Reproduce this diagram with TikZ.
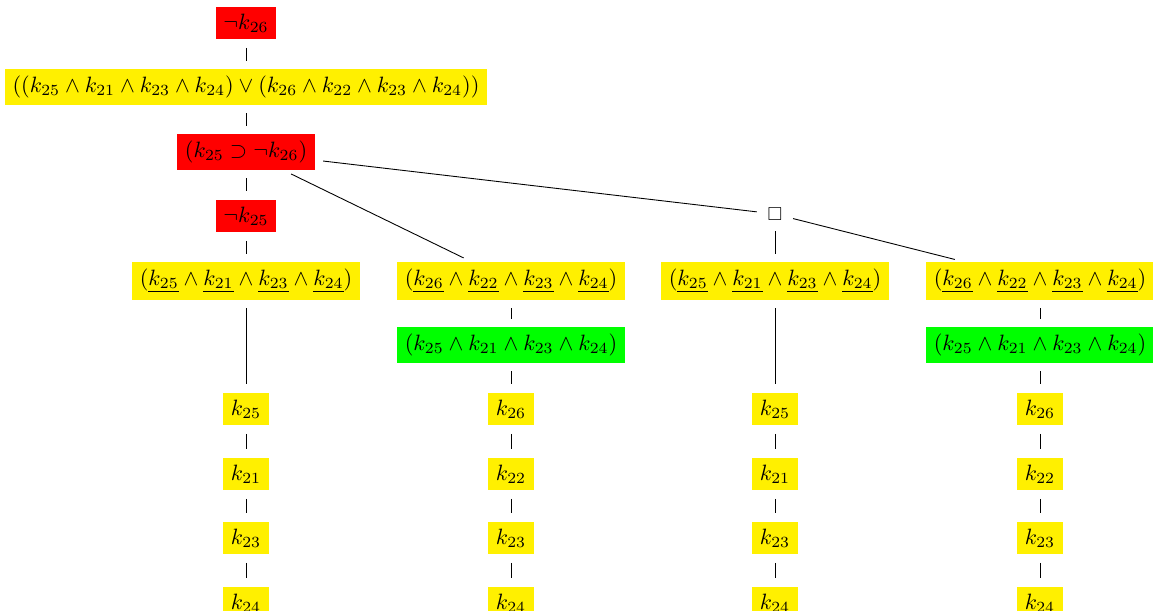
\documentclass[tikz,border=0pt]{standalone}
\usepackage{amssymb}
\usepackage{graphicx}
\definecolor{ylw}{RGB}{255,240,0}
\definecolor{rd}{RGB}{255,0,0}
\definecolor{grn}{RGB}{0,255,0}
\begin{document}
\begin{tikzpicture}[x=0.451pt,y=-0.451pt,
  base/.style={inner xsep=3.5pt, inner ysep=3.15pt, minimum height=14.85pt},
  yb/.style={base, fill=ylw},
  rb/.style={base, fill=rd},
  gb/.style={base, fill=grn},
  conn/.style={shorten <=3.55pt, shorten >=3.55pt}]
\useasboundingbox (0,0) rectangle (1153,611);
\node[rb] (n1) at (246,23) {$\neg k_{26}$};
\node[yb] (n2) at (246,87) {$((k_{25}\wedge k_{21}\wedge k_{23}\wedge k_{24})\vee(k_{26}\wedge k_{22}\wedge k_{23}\wedge k_{24}))$};
\node[rb] (n3) at (246,152) {$(k_{25}\supset\neg k_{26})$};
\node[rb] (n4) at (246,216) {$\neg k_{25}$};
\node[inner sep=1.2pt] (bx) at (775,214) {\scalebox{0.85}{$\Box$}};
\node[yb] (a) at (246,281) {$(\underline{k_{25}}\wedge \underline{k_{21}}\wedge \underline{k_{23}}\wedge \underline{k_{24}})$};
\node[yb] (b) at (511,281) {$(\underline{k_{26}}\wedge \underline{k_{22}}\wedge \underline{k_{23}}\wedge \underline{k_{24}})$};
\node[yb] (c) at (775,281) {$(\underline{k_{25}}\wedge \underline{k_{21}}\wedge \underline{k_{23}}\wedge \underline{k_{24}})$};
\node[yb] (d) at (1040,281) {$(\underline{k_{26}}\wedge \underline{k_{22}}\wedge \underline{k_{23}}\wedge \underline{k_{24}})$};
\node[gb] (bg) at (511,345) {$(k_{25}\wedge k_{21}\wedge k_{23}\wedge k_{24})$};
\node[gb] (dg) at (1040,345) {$(k_{25}\wedge k_{21}\wedge k_{23}\wedge k_{24})$};
% chains
\node[yb] (a1) at (246,409) {$k_{25}$};
\node[yb] (a2) at (246,474) {$k_{21}$};
\node[yb] (a3) at (246,538) {$k_{23}$};
\node[yb] (a4) at (246,603) {$k_{24}$};
\node[yb] (b1) at (511,409) {$k_{26}$};
\node[yb] (b2) at (511,474) {$k_{22}$};
\node[yb] (b3) at (511,538) {$k_{23}$};
\node[yb] (b4) at (511,603) {$k_{24}$};
\node[yb] (c1) at (775,409) {$k_{25}$};
\node[yb] (c2) at (775,474) {$k_{21}$};
\node[yb] (c3) at (775,538) {$k_{23}$};
\node[yb] (c4) at (775,603) {$k_{24}$};
\node[yb] (d1) at (1040,409) {$k_{26}$};
\node[yb] (d2) at (1040,474) {$k_{22}$};
\node[yb] (d3) at (1040,538) {$k_{23}$};
\node[yb] (d4) at (1040,603) {$k_{24}$};
\draw[conn] (n1) -- (n2);
\draw[conn] (n2) -- (n3);
\draw[conn] (n3) -- (n4);
\draw[conn] (n3) -- (b);
\draw[conn] (n3) -- (bx);
\draw[conn] (n4) -- (a);
\draw[conn] (bx) -- (c);
\draw[conn] (bx) -- (d);
\draw[conn] (a) -- (a1);
\draw[conn] (a1) -- (a2);
\draw[conn] (a2) -- (a3);
\draw[conn] (a3) -- (a4);
\draw[conn] (b) -- (bg);
\draw[conn] (bg) -- (b1);
\draw[conn] (b1) -- (b2);
\draw[conn] (b2) -- (b3);
\draw[conn] (b3) -- (b4);
\draw[conn] (c) -- (c1);
\draw[conn] (c1) -- (c2);
\draw[conn] (c2) -- (c3);
\draw[conn] (c3) -- (c4);
\draw[conn] (d) -- (dg);
\draw[conn] (dg) -- (d1);
\draw[conn] (d1) -- (d2);
\draw[conn] (d2) -- (d3);
\draw[conn] (d3) -- (d4);
\end{tikzpicture}
\end{document}
